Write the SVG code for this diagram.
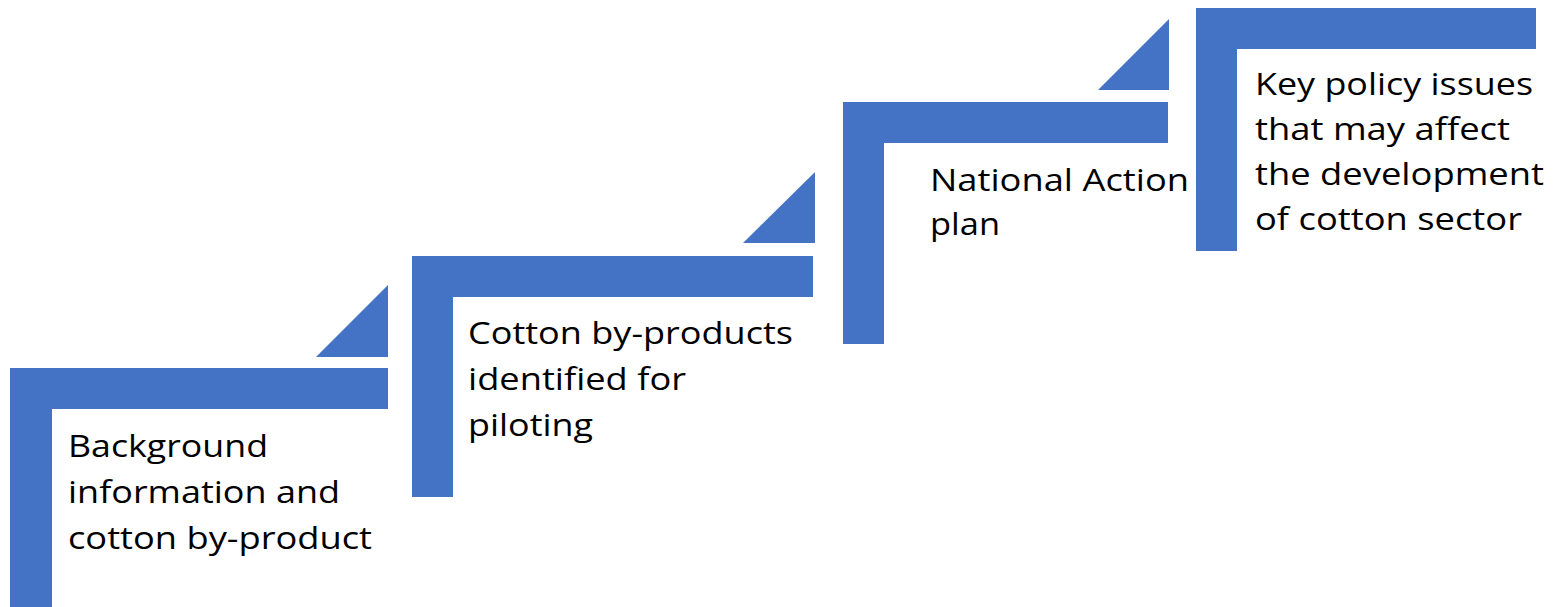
<svg xmlns="http://www.w3.org/2000/svg" width="1568" height="607" viewBox="0 0 1568 607">
<style>
.s{fill:#4472C4}
.t{font-family:"Open Sans","Liberation Sans",sans-serif;font-size:31px;fill:#000}
</style>
<rect width="1568" height="607" fill="#fff"/>
<g id="step1">
<path class="s" d="M10 368H388V409H52V607H10Z"/>
<path class="s" d="M388 285V357H316Z"/>
<text class="t" x="68" y="457" textLength="200" lengthAdjust="spacingAndGlyphs">Background</text>
<text class="t" x="68" y="503" textLength="272" lengthAdjust="spacingAndGlyphs">information and</text>
<text class="t" x="68" y="549" textLength="304" lengthAdjust="spacingAndGlyphs">cotton by-product</text>
</g>
<g id="step2">
<path class="s" d="M412 256H813V297H453V497H412Z"/>
<path class="s" d="M815 172V243H743Z"/>
<text class="t" x="468" y="344" textLength="325" lengthAdjust="spacingAndGlyphs">Cotton by-products</text>
<text class="t" x="468" y="390" textLength="218" lengthAdjust="spacingAndGlyphs">identified for</text>
<text class="t" x="468" y="436" textLength="125" lengthAdjust="spacingAndGlyphs">piloting</text>
</g>
<g id="step3">
<path class="s" d="M843 102H1168V143H884V344H843Z"/>
<path class="s" d="M1169 19V90H1098Z"/>
<text class="t" x="930" y="191" textLength="259" lengthAdjust="spacingAndGlyphs">National Action</text>
<text class="t" x="930" y="235" textLength="70" lengthAdjust="spacingAndGlyphs">plan</text>
</g>
<g id="step4">
<path class="s" d="M1196 8H1536V49H1237V251H1196Z"/>
<text class="t" x="1255" y="95" textLength="278" lengthAdjust="spacingAndGlyphs">Key policy issues</text>
<text class="t" x="1255" y="140" textLength="255" lengthAdjust="spacingAndGlyphs">that may affect</text>
<text class="t" x="1255" y="185" textLength="289" lengthAdjust="spacingAndGlyphs">the development</text>
<text class="t" x="1255" y="230" textLength="267" lengthAdjust="spacingAndGlyphs">of cotton sector</text>
</g>
<g id="connectors"></g>
</svg>
